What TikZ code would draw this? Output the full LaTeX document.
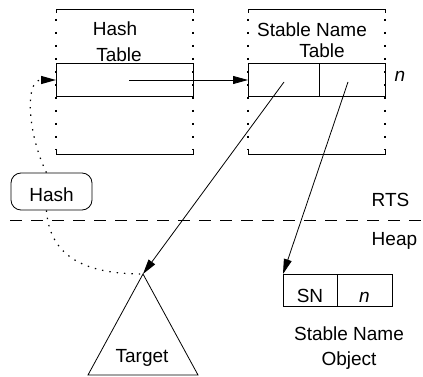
\documentclass[tikz,border=0pt]{standalone}
\usepackage{fontspec}
\setmainfont{Liberation Sans}
\usetikzlibrary{arrows.meta, positioning}

\begin{document}
\begin{tikzpicture}[x=1pt, y=-1pt, line width=0.8pt,
    font=\fontsize{19}{22}\selectfont,
    cellule/.style={draw, inner sep=0pt, outer sep=0pt, minimum height=33pt},
    pointille/.style={line width=1.2pt, dash pattern=on 1.4pt off 6pt},
    bord/.style={line width=1.4pt, dash pattern=on 1.8pt off 11.2pt},
    fleche/.style={-{Triangle[length=15pt,width=8pt]}}]
  \useasboundingbox (0,0) rectangle (423,377);

  % Cadres des tables
  \foreach \xa/\xb in {56/193, 248/385} {
    \draw (\xa,13) -- (\xa,9) -- (\xb,9) -- (\xb,13);
    \draw (\xa,150) -- (\xa,154) -- (\xb,154) -- (\xb,150);
    \draw[bord] (\xa,19) -- (\xa,150);
    \draw[bord] (\xb,19) -- (\xb,150);
  }

  % Cases des tables
  \node[cellule, minimum width=137pt] (hrow) at (124.5,80) {};
  \node[cellule, minimum width=71pt] (snl) at (283.5,80) {};
  \node[cellule, minimum width=66pt, right=0pt of snl] (snr) {};

  % Titres des tables
  \node[anchor=base] (hashtitre) at (115,36) {Hash};
  \node[anchor=base] (hashtable) at (119,62) {Table};
  \node[anchor=base] (sntitre) at (312,37) {Stable Name};
  \node[anchor=base] (sntable) at (322,58) {Table};
  \node[anchor=base west] (nindex) at (391,82) {\textit{n}};

  % Fonction de hachage
  \node[draw, rounded corners=10pt, minimum width=81pt, minimum height=37pt,
        inner sep=0pt, text height=19pt, text depth=0pt] (hash) at (51.5,191.5) {Hash};

  % Séparation RTS / Heap
  \coordinate (sepg) at (10,220);
  \coordinate (sepd) at (423,220);
  \draw[dash pattern=on 12pt off 9pt] (sepg) -- (sepd);
  \node[anchor=base west] (rts) at (368,206) {RTS};
  \node[anchor=base west] (heap) at (368,245) {Heap};

  % Objet cible
  \coordinate (sommet) at (143,274);
  \coordinate (baseg) at (88,375);
  \coordinate (based) at (198,375);
  \draw (sommet) -- (baseg) -- (based) -- cycle;
  \node[anchor=base] (cible) at (142,362) {Target};

  % Objet Stable Name
  \node[cellule, minimum width=54pt, minimum height=32pt,
        text height=24pt, text depth=0pt] (snobj) at (310,290) {SN};
  \node[cellule, minimum width=55pt, minimum height=32pt,
        text height=24pt, text depth=0pt, right=0pt of snobj] (snval) {\textit{n}};
  \node[anchor=base] (snlib) at (349,340) {Stable Name};
  \node[anchor=base] (snobjet) at (349,365) {Object};

  % Pointeurs
  \coordinate (hptr) at (129,80);
  \coordinate (snlptr) at (284,82);
  \coordinate (snrptr) at (348,82);
  \draw[fleche] (hptr) -- (snl.west);
  \draw[fleche] (snlptr) -- (sommet);
  \draw[fleche] (snrptr) -- (snobj.north west);

  % Hachage de la cible
  \draw[pointille, fleche] (hash.105) .. controls (28,135) and (24,80) .. (hrow.west);
  \draw[pointille] (hash.255) .. controls (50,260) and (90,274) .. (sommet);
\end{tikzpicture}
\end{document}
